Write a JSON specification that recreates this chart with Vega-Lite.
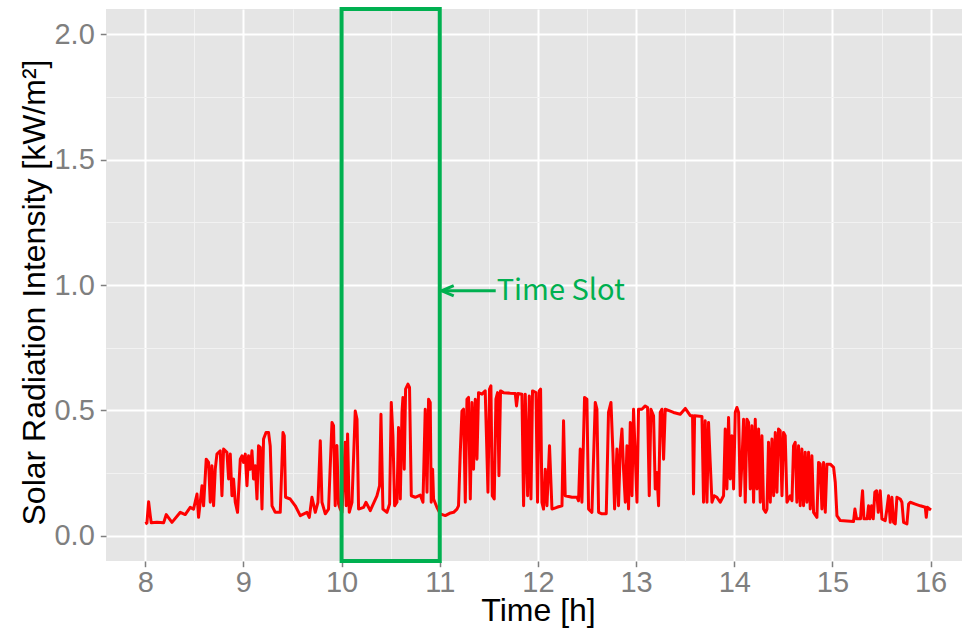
{
  "$schema": "https://vega.github.io/schema/vega-lite/v6.json",
  "width": 856,
  "height": 552,
  "autosize": {"type": "none"},
  "padding": {"left": 106, "top": 9, "right": 0, "bottom": 70},
  "background": "#ffffff",
  "config": {
    "font": "Liberation Sans",
    "view": {"fill": "#e5e5e5", "stroke": null}
  },
  "datasets": {
    "radiation": [
      {"time": 8.000, "intensity": 0.048}, {"time": 8.017, "intensity": 0.052}, {"time": 8.034, "intensity": 0.136}, {"time": 8.051, "intensity": 0.081},
      {"time": 8.061, "intensity": 0.052}, {"time": 8.119, "intensity": 0.054}, {"time": 8.187, "intensity": 0.052}, {"time": 8.214, "intensity": 0.085},
      {"time": 8.272, "intensity": 0.054}, {"time": 8.357, "intensity": 0.094}, {"time": 8.407, "intensity": 0.085}, {"time": 8.458, "intensity": 0.114},
      {"time": 8.492, "intensity": 0.107}, {"time": 8.527, "intensity": 0.167}, {"time": 8.543, "intensity": 0.074}, {"time": 8.560, "intensity": 0.134},
      {"time": 8.578, "intensity": 0.200}, {"time": 8.594, "intensity": 0.120}, {"time": 8.621, "intensity": 0.306}, {"time": 8.645, "intensity": 0.293},
      {"time": 8.662, "intensity": 0.134}, {"time": 8.679, "intensity": 0.280}, {"time": 8.696, "intensity": 0.120}, {"time": 8.713, "intensity": 0.266},
      {"time": 8.730, "intensity": 0.326}, {"time": 8.764, "intensity": 0.339}, {"time": 8.781, "intensity": 0.160}, {"time": 8.798, "intensity": 0.346},
      {"time": 8.832, "intensity": 0.333}, {"time": 8.849, "intensity": 0.227}, {"time": 8.866, "intensity": 0.326}, {"time": 8.883, "intensity": 0.160},
      {"time": 8.899, "intensity": 0.227}, {"time": 8.917, "intensity": 0.134}, {"time": 8.940, "intensity": 0.094}, {"time": 8.968, "intensity": 0.306},
      {"time": 8.985, "intensity": 0.319}, {"time": 9.001, "intensity": 0.293}, {"time": 9.019, "intensity": 0.326}, {"time": 9.036, "intensity": 0.200},
      {"time": 9.052, "intensity": 0.319}, {"time": 9.070, "intensity": 0.266}, {"time": 9.087, "intensity": 0.339}, {"time": 9.103, "intensity": 0.227},
      {"time": 9.121, "intensity": 0.280}, {"time": 9.138, "intensity": 0.147}, {"time": 9.154, "intensity": 0.359}, {"time": 9.171, "intensity": 0.353},
      {"time": 9.189, "intensity": 0.107}, {"time": 9.205, "intensity": 0.386}, {"time": 9.230, "intensity": 0.412}, {"time": 9.256, "intensity": 0.412},
      {"time": 9.273, "intensity": 0.359}, {"time": 9.291, "intensity": 0.120}, {"time": 9.324, "intensity": 0.094}, {"time": 9.375, "intensity": 0.094},
      {"time": 9.403, "intensity": 0.412}, {"time": 9.416, "intensity": 0.399}, {"time": 9.429, "intensity": 0.154}, {"time": 9.477, "intensity": 0.147},
      {"time": 9.528, "intensity": 0.120}, {"time": 9.579, "intensity": 0.081}, {"time": 9.647, "intensity": 0.094}, {"time": 9.671, "intensity": 0.074},
      {"time": 9.698, "intensity": 0.154}, {"time": 9.732, "intensity": 0.094}, {"time": 9.759, "intensity": 0.134}, {"time": 9.783, "intensity": 0.379},
      {"time": 9.800, "intensity": 0.134}, {"time": 9.834, "intensity": 0.088}, {"time": 9.867, "intensity": 0.107}, {"time": 9.902, "intensity": 0.452},
      {"time": 9.918, "intensity": 0.439}, {"time": 9.935, "intensity": 0.120}, {"time": 9.952, "intensity": 0.360}, {"time": 9.969, "intensity": 0.127},
      {"time": 9.986, "intensity": 0.107}, {"time": 10.004, "intensity": 0.094}, {"time": 10.037, "intensity": 0.373}, {"time": 10.047, "intensity": 0.120},
      {"time": 10.061, "intensity": 0.406}, {"time": 10.078, "intensity": 0.094}, {"time": 10.106, "intensity": 0.134}, {"time": 10.139, "intensity": 0.498},
      {"time": 10.157, "intensity": 0.465}, {"time": 10.173, "intensity": 0.107}, {"time": 10.224, "intensity": 0.114}, {"time": 10.248, "intensity": 0.134},
      {"time": 10.292, "intensity": 0.101}, {"time": 10.360, "intensity": 0.160}, {"time": 10.387, "intensity": 0.200}, {"time": 10.401, "intensity": 0.485},
      {"time": 10.421, "intensity": 0.107}, {"time": 10.462, "intensity": 0.094}, {"time": 10.489, "intensity": 0.127}, {"time": 10.506, "intensity": 0.532},
      {"time": 10.523, "intensity": 0.399}, {"time": 10.540, "intensity": 0.120}, {"time": 10.564, "intensity": 0.134}, {"time": 10.580, "intensity": 0.432},
      {"time": 10.598, "intensity": 0.147}, {"time": 10.615, "intensity": 0.492}, {"time": 10.625, "intensity": 0.552}, {"time": 10.638, "intensity": 0.266},
      {"time": 10.652, "intensity": 0.585}, {"time": 10.676, "intensity": 0.605}, {"time": 10.692, "intensity": 0.592}, {"time": 10.710, "intensity": 0.160},
      {"time": 10.750, "intensity": 0.154}, {"time": 10.801, "intensity": 0.163}, {"time": 10.829, "intensity": 0.134}, {"time": 10.852, "intensity": 0.505},
      {"time": 10.870, "intensity": 0.174}, {"time": 10.886, "intensity": 0.545}, {"time": 10.903, "intensity": 0.532}, {"time": 10.913, "intensity": 0.134},
      {"time": 10.927, "intensity": 0.266}, {"time": 10.937, "intensity": 0.147}, {"time": 10.971, "intensity": 0.114}, {"time": 11.005, "intensity": 0.088},
      {"time": 11.056, "intensity": 0.081}, {"time": 11.100, "intensity": 0.090}, {"time": 11.141, "intensity": 0.094}, {"time": 11.175, "intensity": 0.107},
      {"time": 11.191, "intensity": 0.120}, {"time": 11.209, "intensity": 0.333}, {"time": 11.226, "intensity": 0.498}, {"time": 11.242, "intensity": 0.505},
      {"time": 11.260, "intensity": 0.134}, {"time": 11.277, "intensity": 0.545}, {"time": 11.293, "intensity": 0.552}, {"time": 11.311, "intensity": 0.147},
      {"time": 11.328, "intensity": 0.532}, {"time": 11.344, "intensity": 0.266}, {"time": 11.362, "intensity": 0.545}, {"time": 11.379, "intensity": 0.306},
      {"time": 11.395, "intensity": 0.571}, {"time": 11.430, "intensity": 0.565}, {"time": 11.463, "intensity": 0.578}, {"time": 11.491, "intensity": 0.174},
      {"time": 11.507, "intensity": 0.585}, {"time": 11.521, "intensity": 0.598}, {"time": 11.535, "intensity": 0.160}, {"time": 11.555, "intensity": 0.147},
      {"time": 11.572, "intensity": 0.545}, {"time": 11.589, "intensity": 0.571}, {"time": 11.603, "intensity": 0.240}, {"time": 11.619, "intensity": 0.578},
      {"time": 11.650, "intensity": 0.571}, {"time": 11.718, "intensity": 0.569}, {"time": 11.769, "intensity": 0.568}, {"time": 11.782, "intensity": 0.518},
      {"time": 11.797, "intensity": 0.568}, {"time": 11.837, "intensity": 0.565}, {"time": 11.854, "intensity": 0.120}, {"time": 11.871, "intensity": 0.565},
      {"time": 11.895, "intensity": 0.160}, {"time": 11.912, "intensity": 0.558}, {"time": 11.929, "intensity": 0.147}, {"time": 11.945, "intensity": 0.578},
      {"time": 11.980, "intensity": 0.571}, {"time": 11.996, "intensity": 0.134}, {"time": 12.013, "intensity": 0.578}, {"time": 12.027, "intensity": 0.585},
      {"time": 12.041, "intensity": 0.134}, {"time": 12.057, "intensity": 0.107}, {"time": 12.075, "intensity": 0.266}, {"time": 12.092, "intensity": 0.120},
      {"time": 12.118, "intensity": 0.359}, {"time": 12.143, "intensity": 0.107}, {"time": 12.194, "intensity": 0.114}, {"time": 12.245, "intensity": 0.120},
      {"time": 12.261, "intensity": 0.459}, {"time": 12.278, "intensity": 0.160}, {"time": 12.347, "intensity": 0.154}, {"time": 12.398, "intensity": 0.154},
      {"time": 12.414, "intensity": 0.140}, {"time": 12.431, "intensity": 0.346}, {"time": 12.448, "intensity": 0.134}, {"time": 12.475, "intensity": 0.552},
      {"time": 12.499, "intensity": 0.545}, {"time": 12.516, "intensity": 0.107}, {"time": 12.550, "intensity": 0.094}, {"time": 12.584, "intensity": 0.532},
      {"time": 12.601, "intensity": 0.505}, {"time": 12.618, "intensity": 0.094}, {"time": 12.652, "intensity": 0.088}, {"time": 12.696, "intensity": 0.088},
      {"time": 12.719, "intensity": 0.492}, {"time": 12.744, "intensity": 0.532}, {"time": 12.764, "intensity": 0.333}, {"time": 12.781, "intensity": 0.107},
      {"time": 12.805, "intensity": 0.346}, {"time": 12.821, "intensity": 0.120}, {"time": 12.839, "intensity": 0.346}, {"time": 12.856, "intensity": 0.426},
      {"time": 12.872, "intensity": 0.266}, {"time": 12.890, "intensity": 0.134}, {"time": 12.907, "intensity": 0.359}, {"time": 12.923, "intensity": 0.107},
      {"time": 12.941, "intensity": 0.452}, {"time": 12.958, "intensity": 0.160}, {"time": 12.974, "intensity": 0.505}, {"time": 13.009, "intensity": 0.134},
      {"time": 13.025, "intensity": 0.505}, {"time": 13.059, "intensity": 0.505}, {"time": 13.093, "intensity": 0.518}, {"time": 13.117, "intensity": 0.512},
      {"time": 13.134, "intensity": 0.160}, {"time": 13.151, "intensity": 0.505}, {"time": 13.178, "intensity": 0.479}, {"time": 13.195, "intensity": 0.187},
      {"time": 13.212, "intensity": 0.253}, {"time": 13.229, "intensity": 0.120}, {"time": 13.246, "intensity": 0.492}, {"time": 13.263, "intensity": 0.505},
      {"time": 13.280, "intensity": 0.306}, {"time": 13.297, "intensity": 0.505}, {"time": 13.381, "intensity": 0.492}, {"time": 13.450, "intensity": 0.485},
      {"time": 13.501, "intensity": 0.508}, {"time": 13.552, "intensity": 0.479}, {"time": 13.575, "intensity": 0.479}, {"time": 13.585, "intensity": 0.167},
      {"time": 13.596, "intensity": 0.479}, {"time": 13.671, "intensity": 0.476}, {"time": 13.687, "intensity": 0.134}, {"time": 13.704, "intensity": 0.459},
      {"time": 13.722, "intensity": 0.134}, {"time": 13.738, "intensity": 0.452}, {"time": 13.755, "intensity": 0.293}, {"time": 13.773, "intensity": 0.134},
      {"time": 13.796, "intensity": 0.160}, {"time": 13.823, "intensity": 0.154}, {"time": 13.857, "intensity": 0.134}, {"time": 13.891, "intensity": 0.160},
      {"time": 13.908, "intensity": 0.426}, {"time": 13.925, "intensity": 0.187}, {"time": 13.942, "intensity": 0.472}, {"time": 13.959, "intensity": 0.227},
      {"time": 13.976, "intensity": 0.399}, {"time": 13.993, "intensity": 0.187}, {"time": 14.010, "intensity": 0.492}, {"time": 14.027, "intensity": 0.512},
      {"time": 14.044, "intensity": 0.492}, {"time": 14.061, "intensity": 0.160}, {"time": 14.078, "intensity": 0.293}, {"time": 14.095, "intensity": 0.465},
      {"time": 14.112, "intensity": 0.134}, {"time": 14.129, "intensity": 0.465}, {"time": 14.146, "intensity": 0.452}, {"time": 14.163, "intensity": 0.187},
      {"time": 14.180, "intensity": 0.439}, {"time": 14.197, "intensity": 0.134}, {"time": 14.214, "intensity": 0.465}, {"time": 14.231, "intensity": 0.187},
      {"time": 14.248, "intensity": 0.426}, {"time": 14.265, "intensity": 0.134}, {"time": 14.282, "intensity": 0.399}, {"time": 14.299, "intensity": 0.107},
      {"time": 14.319, "intensity": 0.094}, {"time": 14.333, "intensity": 0.107}, {"time": 14.349, "intensity": 0.373}, {"time": 14.367, "intensity": 0.134},
      {"time": 14.384, "intensity": 0.386}, {"time": 14.401, "intensity": 0.160}, {"time": 14.418, "intensity": 0.412}, {"time": 14.435, "intensity": 0.174},
      {"time": 14.451, "intensity": 0.426}, {"time": 14.468, "intensity": 0.419}, {"time": 14.486, "intensity": 0.160}, {"time": 14.502, "intensity": 0.412},
      {"time": 14.519, "intensity": 0.399}, {"time": 14.537, "intensity": 0.134}, {"time": 14.570, "intensity": 0.160}, {"time": 14.588, "intensity": 0.140},
      {"time": 14.604, "intensity": 0.359}, {"time": 14.621, "intensity": 0.373}, {"time": 14.638, "intensity": 0.134}, {"time": 14.655, "intensity": 0.359},
      {"time": 14.672, "intensity": 0.120}, {"time": 14.689, "intensity": 0.346}, {"time": 14.706, "intensity": 0.120}, {"time": 14.723, "intensity": 0.333},
      {"time": 14.740, "intensity": 0.134}, {"time": 14.757, "intensity": 0.333}, {"time": 14.774, "intensity": 0.107}, {"time": 14.791, "intensity": 0.319},
      {"time": 14.808, "intensity": 0.094}, {"time": 14.842, "intensity": 0.074}, {"time": 14.859, "intensity": 0.293}, {"time": 14.876, "intensity": 0.286},
      {"time": 14.893, "intensity": 0.107}, {"time": 14.910, "intensity": 0.293}, {"time": 14.927, "intensity": 0.094}, {"time": 14.944, "intensity": 0.286},
      {"time": 14.978, "intensity": 0.286}, {"time": 15.012, "intensity": 0.273}, {"time": 15.029, "intensity": 0.214}, {"time": 15.046, "intensity": 0.081},
      {"time": 15.080, "intensity": 0.061}, {"time": 15.215, "intensity": 0.057}, {"time": 15.229, "intensity": 0.107}, {"time": 15.246, "intensity": 0.068},
      {"time": 15.286, "intensity": 0.068}, {"time": 15.297, "intensity": 0.134}, {"time": 15.307, "intensity": 0.180}, {"time": 15.321, "intensity": 0.068},
      {"time": 15.354, "intensity": 0.068}, {"time": 15.368, "intensity": 0.120}, {"time": 15.382, "intensity": 0.068}, {"time": 15.399, "intensity": 0.120},
      {"time": 15.416, "intensity": 0.068}, {"time": 15.432, "intensity": 0.174}, {"time": 15.450, "intensity": 0.180}, {"time": 15.467, "intensity": 0.094},
      {"time": 15.487, "intensity": 0.180}, {"time": 15.504, "intensity": 0.068}, {"time": 15.538, "intensity": 0.061}, {"time": 15.555, "intensity": 0.107},
      {"time": 15.572, "intensity": 0.160}, {"time": 15.589, "intensity": 0.054}, {"time": 15.606, "intensity": 0.154}, {"time": 15.623, "intensity": 0.054},
      {"time": 15.640, "intensity": 0.048}, {"time": 15.657, "intensity": 0.154}, {"time": 15.691, "intensity": 0.147}, {"time": 15.708, "intensity": 0.134},
      {"time": 15.725, "intensity": 0.054}, {"time": 15.759, "intensity": 0.048}, {"time": 15.776, "intensity": 0.127}, {"time": 15.793, "intensity": 0.134},
      {"time": 15.844, "intensity": 0.127}, {"time": 15.895, "intensity": 0.120}, {"time": 15.946, "intensity": 0.114}, {"time": 15.956, "intensity": 0.074},
      {"time": 15.966, "intensity": 0.114}, {"time": 16.004, "intensity": 0.103}
    ],
    "slot": [{"start": 10, "end": 11, "low": -0.1, "high": 2.1}],
    "callout": [{"from": 11.57, "to": 11.02, "level": 0.977, "label": "Time Slot"}]
  },
  "resolve": {"axis": {"x": "independent", "y": "independent"}},
  "layer": [
    {
      "data": {"name": "radiation"},
      "mark": {"type": "line", "color": "#ff0000", "strokeWidth": 3, "strokeJoin": "round"},
      "encoding": {
        "x": {
          "field": "time", "type": "quantitative",
          "scale": {"domain": [7.6, 16.32], "nice": false, "zero": false},
          "axis": {"orient": "top", "values": [8.5, 9.5, 10.5, 11.5, 12.5, 13.5, 14.5, 15.5], "grid": true, "gridColor": "#f2f2f2", "gridWidth": 1, "labels": false, "ticks": false, "domain": false, "title": null}
        },
        "y": {
          "field": "intensity", "type": "quantitative",
          "scale": {"domain": [-0.1, 2.1], "nice": false, "zero": false},
          "axis": {"orient": "right", "values": [0.25, 0.75, 1.25, 1.75], "grid": true, "gridColor": "#f2f2f2", "gridWidth": 1, "labels": false, "ticks": false, "domain": false, "title": null}
        }
      }
    },
    {
      "data": {"name": "slot"},
      "mark": {"type": "rect", "fill": "transparent", "stroke": "#00b050", "strokeWidth": 4},
      "encoding": {
        "x": {
          "field": "start", "type": "quantitative",
          "scale": {"domain": [7.6, 16.32], "nice": false, "zero": false},
          "axis": {
            "orient": "bottom", "values": [8, 9, 10, 11, 12, 13, 14, 15, 16], "format": "d",
            "grid": true, "gridColor": "#ffffff", "gridWidth": 2, "domain": false,
            "tickColor": "#7f7f7f", "tickSize": 5.7, "tickWidth": 1.5,
            "labelColor": "#7f7f7f", "labelFontSize": 29, "labelPadding": 2,
            "title": "Time [h]", "titleFontSize": 32, "titleFontWeight": "normal", "titleColor": "#000000",
            "titleX": 432, "titleY": 49, "titleBaseline": "middle", "titleAlign": "center"
          }
        },
        "x2": {"field": "end"},
        "y": {
          "field": "low", "type": "quantitative",
          "scale": {"domain": [-0.1, 2.1], "nice": false, "zero": false},
          "axis": {
            "orient": "left", "values": [0, 0.5, 1, 1.5, 2], "format": ".1f",
            "grid": true, "gridColor": "#ffffff", "gridWidth": 2, "domain": false,
            "tickColor": "#7f7f7f", "tickSize": 5.7, "tickWidth": 1.5,
            "labelColor": "#7f7f7f", "labelFontSize": 29, "labelPadding": 6,
            "title": "Solar Radiation Intensity [kW/m²]", "titleFontSize": 32, "titleFontWeight": "normal", "titleColor": "#000000",
            "titleX": -72, "titleY": 283, "titleAngle": -90, "titleBaseline": "middle", "titleAlign": "center"
          }
        },
        "y2": {"field": "high"}
      }
    },
    {
      "data": {"name": "callout"},
      "mark": {"type": "rule", "color": "#00b050", "strokeWidth": 3},
      "encoding": {
        "x": {"field": "from", "type": "quantitative", "axis": null},
        "x2": {"field": "to"},
        "y": {"field": "level", "type": "quantitative", "axis": null}
      }
    },
    {
      "data": {"name": "callout"},
      "mark": {"type": "point", "shape": "M 2 -0.85 L 0 0 L 2 0.85", "size": 144, "filled": false, "color": "#00b050", "strokeWidth": 3, "opacity": 1},
      "encoding": {
        "x": {"field": "to", "type": "quantitative", "axis": null},
        "y": {"field": "level", "type": "quantitative", "axis": null}
      }
    },
    {
      "data": {"name": "callout"},
      "mark": {"type": "text", "align": "left", "baseline": "middle", "dx": 1, "font": "Noto Sans CJK JP", "fontSize": 29, "color": "#00b050"},
      "encoding": {
        "x": {"field": "from", "type": "quantitative", "axis": null},
        "y": {"field": "level", "type": "quantitative", "axis": null},
        "text": {"field": "label"}
      }
    }
  ]
}
